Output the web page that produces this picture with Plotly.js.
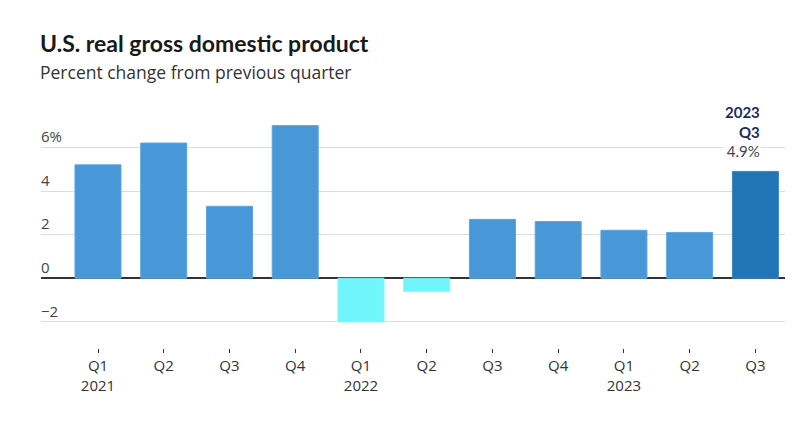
<!DOCTYPE html>
<html>
<head>
<meta charset="utf-8">
<script src="https://cdn.plot.ly/plotly-3.0.1.min.js"></script>
<style>html,body{margin:0;padding:0;background:#fff;}#chart{width:810px;height:426px;}</style>
</head>
<body>
<div id="chart"></div>
<script>
const quarters = ["Q1<br>2021","Q2","Q3","Q4","Q1<br>2022","Q2","Q3","Q4","Q1<br>2023","Q2","Q3"];
const gdpChange = [5.2, 6.2, 3.3, 7.0, -2.0, -0.6, 2.7, 2.6, 2.2, 2.1, 4.9];
const yTickVals = [-2, 0, 2, 4, 6];
const yTickText = ["\u22122", "0", "2", "4", "6%"];
const latestLabel = "<b>2023<br>Q3</b><br><span style='color:#3a4660'>4.9%</span>";

const xIdx = quarters.map((q, i) => i);
const lastIdx = gdpChange.length - 1;
const fillColors = gdpChange.map((v, i) => i === lastIdx ? "#2175b4" : (v < 0 ? "#6ff5fb" : "#4897d6"));
const lineColors = gdpChange.map((v, i) => i === lastIdx ? "#3a88c4" : (v < 0 ? "#7ff8fc" : "#5aa6e0"));

const FONT = "Lato, 'Open Sans', sans-serif";
const FONT2 = "'Open Sans', Lato, sans-serif";

const trace = {
  type: "bar",
  x: xIdx,
  y: gdpChange,
  marker: {color: fillColors, line: {color: lineColors, width: 1}},
  hoverinfo: "skip"
};

const layout = {
  width: 810,
  height: 426,
  margin: {l: 41, r: 25, t: 106, b: 78, pad: 0},
  paper_bgcolor: "#fff",
  plot_bgcolor: "#fff",
  bargap: 0.3,
  showlegend: false,
  font: {family: FONT2, color: "#333", size: 15},
  title: {
    text: "<b>U.S. real gross domestic product</b>",
    x: 40 / 810, xref: "container", xanchor: "left",
    y: 1 - 44 / 426, yref: "container", yanchor: "middle",
    font: {family: FONT, size: 23, color: "#1a1a1a"}
  },
  xaxis: {
    range: [-0.867, 10.45],
    tickmode: "array",
    tickvals: xIdx,
    ticktext: quarters,
    ticks: "outside",
    ticklen: 4,
    tickwidth: 1,
    tickcolor: "#333",
    showgrid: false,
    zeroline: false,
    showline: false,
    tickfont: {family: FONT2, size: 15, color: "#333"},
    fixedrange: true
  },
  yaxis: {
    range: [-3.2, 7.9],
    tickmode: "array",
    tickvals: yTickVals,
    ticktext: yTickText,
    ticklabelposition: "inside top",
    ticklabelshift: 0,
    ticklabelstandoff: -3,
    ticks: "",
    showgrid: true,
    gridcolor: "#dcdcdc",
    gridwidth: 1,
    zeroline: true,
    zerolinecolor: "#333",
    zerolinewidth: 2,
    showline: false,
    tickfont: {family: FONT2, size: 15, color: "#444"},
    fixedrange: true
  },
  annotations: [
    {
      text: "Percent change from previous quarter",
      xref: "paper", yref: "paper", x: 0, y: 1,
      xanchor: "left", yanchor: "middle", yshift: 34, xshift: -3,
      showarrow: false,
      font: {family: FONT2, size: 17.5, color: "#333"}
    },
    {
      text: latestLabel,
      xref: "x", yref: "y", x: lastIdx, y: gdpChange[lastIdx],
      xanchor: "right", yanchor: "bottom", xshift: 6, yshift: 10,
      align: "right",
      showarrow: false,
      bgcolor: "#fff",
      borderpad: 0,
      font: {family: FONT, size: 15, color: "#1b2d5c"}
    }
  ]
};

Plotly.newPlot("chart", [trace], layout, {displayModeBar: false, staticPlot: true});
</script>
</body>
</html>
